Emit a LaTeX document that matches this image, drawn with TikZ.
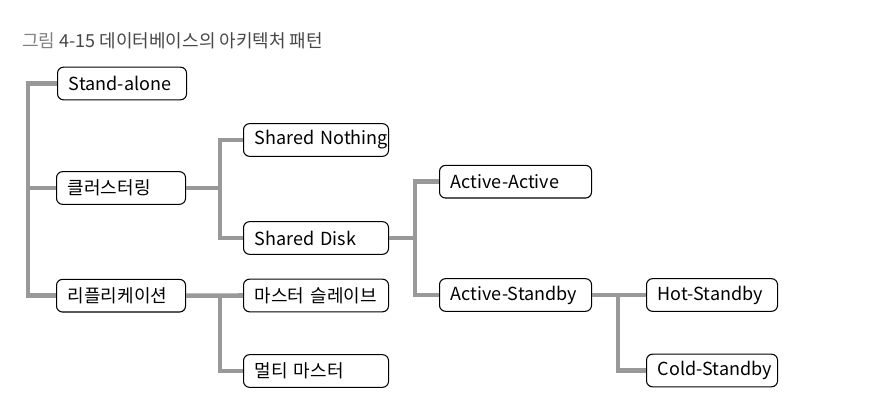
\documentclass[tikz,border=0pt]{standalone}
\usepackage{fontspec}
\setmainfont{Noto Sans CJK KR}
\usetikzlibrary{positioning}

\definecolor{linkgray}{HTML}{999999}

\tikzset{
  box/.style={draw, rounded corners=4.5pt, line width=0.8pt, inner xsep=0pt,
    minimum height=24.5pt, align=left, anchor=west, font=\fontsize{13.5}{15}\selectfont,
    execute at begin node={\hyphenpenalty=10000\hspace*{8.5pt}}},
  col0/.style={box, text width=96.75pt},
  col1/.style={box, text width=108.75pt},
  col2/.style={box, text width=114pt},
  col3/.style={box, text width=98.25pt},
  link/.style={draw=linkgray, line width=3.4pt}
}

\begin{document}
\begin{tikzpicture}
	 [x=0.75pt,y=-0.75pt]
	\useasboundingbox (0,0) rectangle (882,420);

	\node[anchor=west,inner sep=0pt,font=\fontsize{13.5}{15}\selectfont] (title) at (22,41)
	  {\textcolor{black!50}{그림} \textcolor{black!72}{4-15 데이터베이스의 아키텍처 패턴}};

	  \node (sa)[col0] at (57,83.5) {Stand-alone};
	  \node (cl)[col0] at (56,188) {클러스터링};
	  \node (rp)[col0] at (56,295.7) {리플리케이션};

	  \node (sn)[col1] at (243,140) {Shared Nothing};
	  \node (sd)[col1] at (243,238) {Shared Disk};
	  \node (ms)[col1] at (243,295.5) {마스터 슬레이브};
	  \node (mm)[col1] at (243,371) {멀티 마스터};

	  \node (aa)[col2] at (439,181.7) {Active-Active};
	  \node (as)[col2] at (439,295) {Active-Standby};

	  \node (hs)[col3] at (646,295) {Hot-Standby};
	  \node (cs)[col3] at (646,370.5) {Cold-Standby};

	\coordinate (t) at (28,188);
	\coordinate (j1) at (220,188);
	\coordinate (j2) at (220,295.5);
	\coordinate (j3) at (415,238);
	\coordinate (j4) at (618,295);

	\foreach \n in {sa,cl,rp}
    \draw[link] (\n.west) -| (t);

    \draw[link] (cl.east) -- (j1);
    \draw[link] (rp.east) -- (ms.west);
    \draw[link] (sd.east) -- (j3);
    \draw[link] (as.east) -- (hs.west);

	\foreach \from/\to in {j1/sn,j1/sd,j2/mm,j3/aa,j3/as,j4/cs}
    \draw[link] (\from) |- (\to.west);

\end{tikzpicture}
\end{document}
